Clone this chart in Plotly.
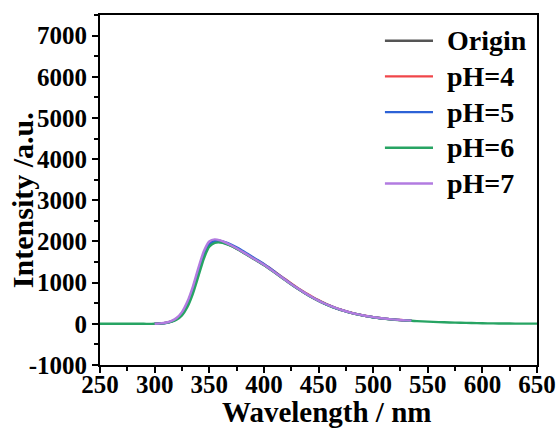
import plotly.graph_objects as go

# Emission spectra (wavelength in nm, intensity in a.u.)
wl = [300, 305, 310, 315, 320, 325, 330, 335, 340, 345, 350, 355, 360, 365,
      370, 375, 380, 385, 390, 395, 400, 405, 410, 415, 420, 425, 430, 435,
      440, 445, 450, 455, 460, 465, 470, 475, 480, 485, 490, 495, 500, 505,
      510, 515, 520, 525, 530, 535]

origin = [0, 8, 22, 55, 120, 245, 480, 830, 1270, 1690, 1940, 2010, 2000, 1955,
          1895, 1825, 1750, 1670, 1590, 1510, 1430, 1340, 1245, 1150, 1055, 960, 870, 785,
          705, 630, 560, 497, 440, 388, 342, 302, 266, 234, 206, 182, 161, 143,
          127, 113, 101, 91, 82, 75]

ph4 = [0, 9, 24, 58, 126, 255, 495, 850, 1290, 1710, 1965, 2030, 2015, 1965,
       1905, 1835, 1760, 1682, 1603, 1525, 1447, 1360, 1265, 1170, 1075, 980, 890, 805,
       722, 646, 574, 508, 449, 395, 348, 306, 269, 236, 208, 184, 163, 144,
       128, 114, 102, 92, 83, 76]

ph5 = [0, 8, 21, 53, 116, 238, 468, 812, 1250, 1670, 1925, 2005, 2010, 1980,
       1925, 1858, 1783, 1700, 1618, 1535, 1452, 1360, 1262, 1163, 1065, 968, 876, 790,
       708, 632, 562, 498, 441, 389, 343, 302, 266, 234, 206, 182, 161, 143,
       127, 113, 101, 91, 82, 75]

ph6_wl = [250, 260, 270, 280, 290, 300, 305, 310, 315, 320, 325, 330, 335, 340,
          345, 350, 355, 360, 365, 370, 375, 380, 385, 390, 395, 400, 405, 410,
          415, 420, 425, 430, 435, 440, 445, 450, 455, 460, 465, 470, 475, 480,
          485, 490, 495, 500, 505, 510, 515, 520, 525, 530, 535, 540, 550, 560,
          570, 580, 590, 600, 610, 620, 630, 640, 650]
ph6 = [0, 0, 0, 0, 0, 0, 6, 18, 45, 100, 205, 410, 730, 1150,
       1580, 1870, 1965, 1975, 1945, 1890, 1822, 1748, 1668, 1588, 1508, 1428, 1338, 1243,
       1148, 1053, 958, 868, 783, 703, 628, 558, 495, 438, 386, 340, 300, 264,
       232, 204, 180, 159, 141, 125, 111, 99, 89, 80, 73, 66, 54, 42,
       33, 25, 19, 14, 10, 8, 6, 5, 4]

ph7 = [0, 10, 27, 66, 142, 285, 540, 905, 1355, 1760, 2000, 2050, 2025, 1972,
       1908, 1836, 1758, 1676, 1595, 1515, 1434, 1344, 1249, 1154, 1059, 964, 874, 789,
       709, 634, 564, 500, 443, 391, 345, 305, 268, 236, 208, 184, 163, 145,
       129, 115, 103, 93, 84, 77]

series = [
    ("Origin", wl, origin, "#555555"),
    ("pH=4", wl, ph4, "#f0464a"),
    ("pH=5", wl, ph5, "#2c62d6"),
    ("pH=6", ph6_wl, ph6, "#27a463"),
    ("pH=7", wl, ph7, "#b27be0"),
]

x_ticks = [250, 300, 350, 400, 450, 500, 550, 600, 650]
y_ticks = [-1000, 0, 1000, 2000, 3000, 4000, 5000, 6000, 7000]

fig = go.Figure()
for name, xs, ys, color in series:
    fig.add_trace(go.Scatter(
        x=xs, y=ys, name=name, mode="lines", showlegend=False,
        line=dict(color=color, width=2.4, shape="spline", smoothing=0.6),
    ))

serif = "Liberation Serif, Times New Roman, serif"

axis_common = dict(
    showline=True, linecolor="black", linewidth=2, mirror=True,
    showgrid=False, zeroline=False, automargin=False,
    ticks="outside", ticklen=6, tickwidth=2, tickcolor="black",
    tickfont=dict(family=serif, size=25, color="black", weight="bold"),
)

fig.update_xaxes(
    range=[250, 650], tickvals=x_ticks,
    ticktext=[str(v) for v in x_ticks], ticklabelstandoff=-10,
    minor=dict(ticks="outside", ticklen=4, tickwidth=2, tickcolor="black", dtick=25),
    **axis_common,
)
fig.update_yaxes(
    range=[-1000, 7500], tickvals=y_ticks,
    ticktext=[str(v) for v in y_ticks],
    minor=dict(ticks="outside", ticklen=4, tickwidth=2, tickcolor="black", dtick=500),
    **axis_common,
)

title_font = dict(family=serif, size=29, color="black", weight="bold")
fig.add_annotation(text="Wavelength / nm", xref="paper", yref="paper",
                   x=0.519, y=-0.134, xanchor="center", yanchor="middle",
                   showarrow=False, font=title_font)
fig.add_annotation(text="Intensity /a.u.", xref="paper", yref="paper",
                   x=-0.1785, y=0.471, xanchor="center", yanchor="middle",
                   textangle=-90, showarrow=False,
                   font=dict(family=serif, size=30, color="black", weight="bold"))

# Legend: a short line key and a label per series, stacked at the top right
legend_font = dict(family=serif, size=28, color="black", weight="bold")
key_x0, key_x1, label_x = 0.652, 0.762, 0.7895
row_y = [0.9266, 0.8246, 0.7226, 0.6206, 0.5186]
for (name, _, _, color), ry in zip(series, row_y):
    fig.add_shape(type="line", xref="paper", yref="paper",
                  x0=key_x0, x1=key_x1, y0=ry, y1=ry,
                  line=dict(color=color, width=2.4))
    fig.add_annotation(text=name, xref="paper", yref="paper",
                       x=label_x, y=ry, xanchor="left", yanchor="middle",
                       showarrow=False, font=legend_font)

fig.update_layout(
    width=558, height=428,
    margin=dict(l=100, r=21, t=15, b=63),
    paper_bgcolor="white", plot_bgcolor="white",
)

fig.write_html("out.html")
